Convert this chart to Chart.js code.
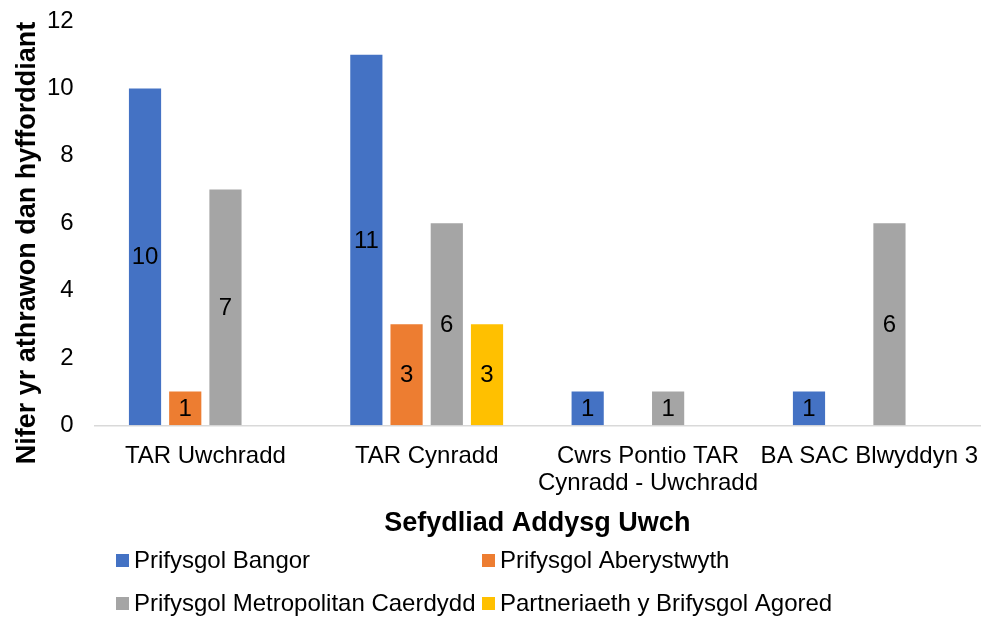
<!DOCTYPE html>
<html>
<head>
<meta charset="utf-8">
<script src="https://cdn.jsdelivr.net/npm/chart.js@4/dist/chart.umd.min.js"></script>
<style>
html,body{margin:0;padding:0;background:#fff;}
#wrap{width:984px;height:621px;position:relative;}
</style>
</head>
<body>
<div id="wrap"><canvas id="c" width="984" height="621"></canvas></div>
<script>
const categories = ["TAR Uwchradd", "TAR Cynradd", ["Cwrs Pontio TAR", "Cynradd - Uwchradd"], "BA SAC Blwyddyn 3"];
const seriesNames = ["Prifysgol Bangor", "Prifysgol Aberystwyth", "Prifysgol Metropolitan Caerdydd", "Partneriaeth y Brifysgol Agored"];
const bangor = [10, 11, 1, 1];
const aberystwyth = [1, 3, null, null];
const metropolitan = [7, 6, 1, 6];
const agored = [null, 3, null, null];
const colors = ["#4472C4", "#ED7D31", "#A5A5A5", "#FFC000"];
const yTicks = [0, 2, 4, 6, 8, 10, 12];
const xTitle = "Sefydliad Addysg Uwch";
const yTitle = "Nifer yr athrawon dan hyfforddiant";

const FONT = "'Liberation Sans', Arial, sans-serif";
const seriesValues = [bangor, aberystwyth, metropolitan, agored];

const valueLabels = {
  id: 'valueLabels',
  afterDatasetsDraw(chart) {
    const ctx = chart.ctx;
    ctx.save();
    ctx.font = "24px " + FONT;
    ctx.fillStyle = "#000";
    ctx.textAlign = "center";
    ctx.textBaseline = "middle";
    chart.data.datasets.forEach((ds, i) => {
      const meta = chart.getDatasetMeta(i);
      meta.data.forEach((el, j) => {
        const v = ds.data[j];
        if (v === null || v === undefined) return;
        const p = el.getProps(['x', 'y', 'base'], true);
        ctx.fillText(String(v), p.x, (p.y + p.base) / 2 + 1);
      });
    });
    ctx.restore();
  }
};

const yTitlePlugin = {
  id: 'yTitlePlugin',
  afterDraw(chart) {
    const ctx = chart.ctx;
    ctx.save();
    ctx.font = "bold 27px " + FONT;
    ctx.fillStyle = "#000";
    ctx.textAlign = "center";
    ctx.textBaseline = "middle";
    ctx.translate(28, 243);
    ctx.rotate(-Math.PI / 2);
    ctx.fillText(yTitle, 0, 0);
    ctx.restore();
  }
};

const gridLegend = {
  id: 'gridLegend',
  afterDraw(chart) {
    const ctx = chart.ctx;
    ctx.save();
    ctx.font = "24px " + FONT;
    ctx.textBaseline = "middle";
    ctx.textAlign = "left";
    const colX = [116, 482];
    const rowY = [560, 603];
    chart.data.datasets.forEach((ds, i) => {
      const x = colX[i % 2], y = rowY[Math.floor(i / 2)];
      ctx.fillStyle = ds.backgroundColor;
      ctx.fillRect(x, y - 6, 13, 13);
      ctx.fillStyle = "#000";
      ctx.fillText(ds.label, x + 18, y + 1);
    });
    ctx.restore();
  }
};

new Chart(document.getElementById('c'), {
  type: 'bar',
  data: {
    labels: categories,
    datasets: seriesNames.map((n, i) => ({
      label: n,
      data: seriesValues[i],
      backgroundColor: colors[i],
      borderWidth: 0,
      categoryPercentage: 0.727,
      barPercentage: 0.8
    }))
  },
  options: {
    responsive: false,
    animation: false,
    layout: { padding: { left: 26, right: 4, top: 21, bottom: 88 } },
    plugins: {
      legend: { display: false },
      tooltip: { enabled: false }
    },
    scales: {
      x: {
        grid: { display: false, drawTicks: false },
        border: { color: "#D9D9D9", width: 1.5 },
        afterFit(scale) { scale.paddingLeft = 0; scale.paddingRight = 0; },
        ticks: { color: "#000", font: { size: 24, family: FONT, lineHeight: 1.1 }, maxRotation: 0, autoSkip: false, padding: 18 },
        title: { display: true, text: xTitle, color: "#000", font: { size: 27, weight: 'bold', family: FONT, lineHeight: 0.7 }, padding: { top: 0, bottom: 0 } }
      },
      y: {
        min: 0, max: 12,
        afterBuildTicks(axis) { axis.ticks = yTicks.map(v => ({ value: v })); },
        afterFit(scale) { scale.paddingTop = 0; scale.paddingBottom = 0; },
        grid: { display: false, drawTicks: false },
        border: { display: false },
        ticks: { color: "#000", font: { size: 24, family: FONT }, padding: 21 },
        title: { display: false }
      }
    }
  },
  plugins: [valueLabels, yTitlePlugin, gridLegend]
});
</script>
</body>
</html>
